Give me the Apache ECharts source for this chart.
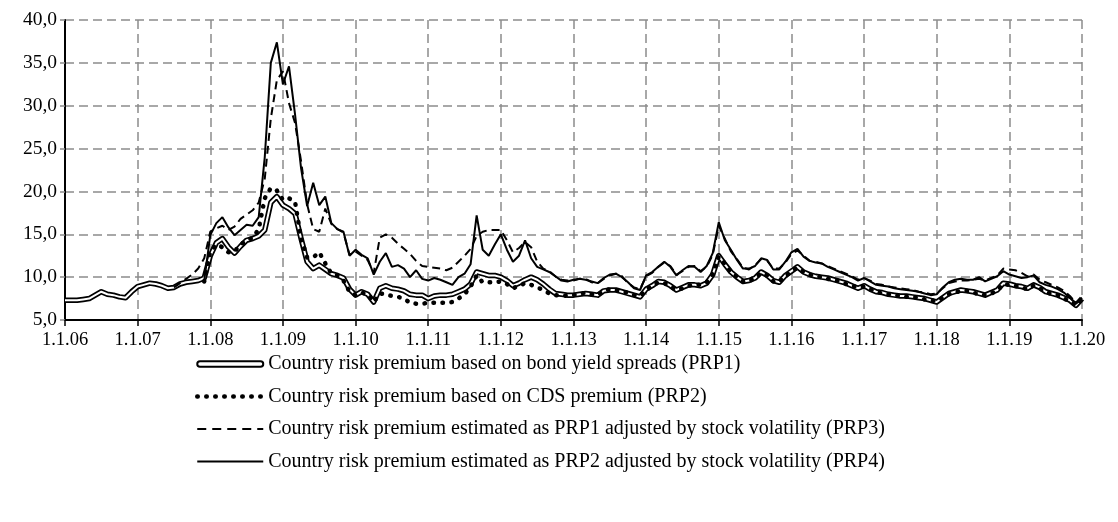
<!DOCTYPE html>
<html>
<head>
<meta charset="utf-8">
<script src="https://cdn.jsdelivr.net/npm/echarts@6/dist/echarts.min.js"></script>
<style>
html,body{margin:0;padding:0;background:#fff;}
#chart{width:1118px;height:522px;}
</style>
</head>
<body>
<div id="chart"></div>
<script>
// monthly values, 1.1.06 .. 1.1.20 (169 points), null = no data yet
var prp1 = [
	7.3, 7.3, 7.3, 7.4, 7.5, 7.9, 8.3, 8.0, 7.9, 7.7, 7.6, 8.3,
	8.9, 9.1, 9.3, 9.2, 9.0, 8.7, 8.8, 9.2, 9.4, 9.5, 9.6, 9.9,
	12.5, 14.0, 14.5, 13.5, 12.8, 13.6, 14.3, 14.5, 14.8, 15.5, 18.7, 19.4,
	18.4, 18.0, 17.4, 14.5, 11.8, 11.0, 11.4, 10.9, 10.4, 10.2, 9.9, 8.6,
	7.9, 8.3, 8.0, 7.1, 8.7, 9.0, 8.7, 8.6, 8.4, 8.0, 7.9, 7.9,
	7.5, 7.8, 7.9, 7.9, 8.0, 8.3, 8.6, 9.2, 10.6, 10.4, 10.2, 10.2,
	10.0, 9.6, 9.0, 9.3, 9.7, 10.0, 9.7, 9.2, 8.6, 8.1, 8.0, 7.9,
	7.9, 8.0, 8.1, 8.0, 7.9, 8.4, 8.5, 8.5, 8.3, 8.1, 7.9, 7.7,
	8.6, 9.0, 9.5, 9.4, 9.0, 8.5, 8.8, 9.1, 9.1, 9.0, 9.3, 10.3,
	12.5, 11.5, 10.6, 10.0, 9.5, 9.6, 9.9, 10.6, 10.2, 9.6, 9.4, 10.2,
	10.7, 11.2, 10.6, 10.3, 10.1, 10.0, 9.9, 9.7, 9.5, 9.3, 9.0, 8.7,
	9.0, 8.6, 8.3, 8.2, 8.0, 7.9, 7.8, 7.8, 7.7, 7.6, 7.5, 7.3,
	7.1, 7.6, 8.1, 8.3, 8.5, 8.4, 8.3, 8.1, 7.9, 8.2, 8.5, 9.3,
	9.2, 9.0, 8.9, 8.7, 9.1, 8.8, 8.3, 8.1, 7.9, 7.6, 7.3, 6.7,
	7.5
];
var prp2 = [
	null, null, null, null, null, null, null, null, null, null, null, null,
	null, null, null, null, null, null, null, null, null, null, null, 9.5,
	13.0, 13.8, 13.5, 12.9, 13.0, 13.8, 14.3, 14.6, 15.6, 19.2, 20.4, 20.1,
	19.0, 19.2, 18.8, 14.5, 12.3, 12.3, 12.9, 11.6, 10.4, 10.2, 9.6, 8.3,
	7.9, 8.2, 8.0, 7.1, 8.1, 8.0, 7.8, 7.7, 7.5, 7.0, 6.9, 6.9,
	7.0, 7.0, 7.0, 7.0, 7.1, 7.5, 8.0, 8.9, 10.2, 9.4, 9.4, 9.4,
	9.5, 9.2, 8.7, 9.0, 9.3, 9.1, 8.8, 8.5, 8.1, 7.9, 7.9, 7.8,
	7.9, 8.0, 8.2, 8.0, 7.9, 8.4, 8.6, 8.5, 8.3, 8.2, 7.9, 7.8,
	8.5, 9.0, 9.4, 9.3, 8.9, 8.5, 8.7, 9.0, 9.1, 9.1, 9.4, 10.4,
	12.4, 11.6, 10.6, 10.0, 9.5, 9.5, 9.9, 10.5, 10.2, 9.5, 9.4, 10.1,
	10.7, 11.1, 10.6, 10.3, 10.1, 10.0, 9.8, 9.7, 9.5, 9.2, 9.0, 8.8,
	8.9, 8.6, 8.3, 8.1, 8.0, 7.9, 7.8, 7.7, 7.7, 7.6, 7.4, 7.3,
	7.2, 7.6, 8.0, 8.2, 8.4, 8.4, 8.2, 8.0, 7.9, 8.1, 8.4, 9.2,
	9.1, 9.0, 8.8, 8.6, 9.0, 8.7, 8.3, 8.0, 7.9, 7.5, 7.2, 6.7,
	7.5
];
var prp3 = [
	null, null, null, null, null, null, null, null, null, null, null, null,
	null, null, null, null, null, null, 8.8, 9.3, 9.8, 10.3, 11.0, 12.2,
	15.3, 15.7, 16.0, 15.5, 15.9, 16.8, 17.3, 17.8, 18.7, 21.5, 28.5, 33.0,
	34.0, 30.3, 28.0, 23.5, 18.5, 15.6, 15.3, 18.0, 16.2, 15.6, 15.2, 12.6,
	13.0, 12.5, 12.0, 10.5, 14.6, 15.0, 14.6, 13.9, 13.3, 12.7, 11.9, 11.3,
	11.2, 11.1, 11.0, 10.8, 11.1, 11.8, 12.5, 13.3, 14.8, 15.3, 15.5, 15.5,
	15.5, 14.3, 12.9, 13.4, 14.1, 13.5, 11.8, 11.0, 10.7, 10.1, 9.7, 9.6,
	9.6, 9.8, 9.8, 9.4, 9.3, 9.8, 10.2, 10.4, 10.1, 9.3, 8.8, 8.6,
	10.1, 10.5, 11.2, 11.7, 11.3, 10.3, 10.7, 11.2, 11.3, 10.7, 11.2, 12.6,
	16.0, 14.5, 13.0, 12.1, 11.1, 10.9, 11.4, 12.1, 11.9, 11.0, 11.0, 11.7,
	12.7, 13.1, 12.5, 11.9, 11.8, 11.6, 11.3, 11.0, 10.7, 10.4, 10.1, 9.7,
	9.9, 9.6, 9.2, 9.1, 8.9, 8.8, 8.7, 8.6, 8.5, 8.3, 8.2, 8.0,
	8.1, 8.7, 9.3, 9.5, 9.6, 9.6, 9.7, 9.8, 9.6, 9.9, 10.2, 11.0,
	10.9, 10.8, 10.5, 10.1, 10.3, 9.7, 9.4, 9.1, 8.8, 8.4, 7.8, 7.0,
	7.6
];
var prp4 = [
	null, null, null, null, null, null, null, null, null, null, null, null,
	null, null, null, null, null, null, null, null, null, null, null, 9.6,
	14.9, 16.3, 17.0, 15.8, 14.9, 15.5, 16.1, 16.0, 17.0, 24.0, 35.0, 37.4,
	32.5, 34.6, 29.0, 22.7, 18.3, 21.0, 18.4, 19.4, 16.3, 15.6, 15.3, 12.5,
	13.2, 12.6, 12.2, 10.3, 11.8, 12.8, 11.2, 11.4, 11.0, 10.0, 10.8, 9.8,
	9.6, 9.9, 9.7, 9.4, 9.1, 10.0, 10.4, 11.5, 17.2, 13.2, 12.5, 13.8,
	15.0, 13.2, 11.8, 12.5, 14.3, 12.2, 11.2, 10.9, 10.6, 10.1, 9.6, 9.5,
	9.7, 9.8, 9.7, 9.5, 9.3, 9.9, 10.3, 10.4, 10.0, 9.4, 8.7, 8.5,
	10.2, 10.6, 11.2, 11.8, 11.2, 10.2, 10.8, 11.3, 11.2, 10.6, 11.3, 12.8,
	16.4, 14.3, 13.2, 12.0, 11.0, 11.0, 11.3, 12.2, 12.0, 10.9, 10.9, 11.8,
	12.9, 13.3, 12.4, 11.9, 11.7, 11.6, 11.2, 10.9, 10.6, 10.3, 10.0, 9.6,
	9.9, 9.5, 9.1, 9.0, 8.9, 8.7, 8.6, 8.5, 8.4, 8.3, 8.1, 7.9,
	8.0, 8.8, 9.4, 9.7, 9.8, 9.7, 9.7, 10.0, 9.5, 9.8, 10.1, 10.7,
	10.3, 10.1, 9.9, 10.0, 10.2, 9.4, 9.1, 8.9, 8.6, 8.2, 7.6, 6.9,
	7.5
];
var xLabels = ['1.1.06','1.1.07','1.1.08','1.1.09','1.1.10','1.1.11','1.1.12','1.1.13','1.1.14','1.1.15','1.1.16','1.1.17','1.1.18','1.1.19','1.1.20'];
var yLabels = ['5,0','10,0','15,0','20,0','25,0','30,0','35,0','40,0'];
var names = [
	'Country risk premium based on bond yield spreads (PRP1)',
	'Country risk premium based on CDS premium (PRP2)',
	'Country risk premium estimated as PRP1 adjusted by stock volatility (PRP3)',
	'Country risk premium estimated as PRP2 adjusted by stock volatility (PRP4)'
];

function toPairs(arr){
	var out = [];
	for(var i=0;i<arr.length;i++){
		out.push([i, arr[i]]);
	}
	return out;
}

var font = 'Liberation Serif';
var myChart = echarts.init(document.getElementById('chart'));
var option = {
	animation: false,
	backgroundColor: '#fff',
	textStyle: {fontFamily: font, color: '#000'},
	grid: {left: 65, right: 36, top: 20, bottom: 202},
	xAxis: {
		type: 'value',
		min: 0, max: 168, interval: 12,
		axisLine: {lineStyle: {color: '#000', width: 2}},
		axisTick: {show: true, length: 6, lineStyle: {color: '#000', width: 1.5}},
		axisLabel: {
			fontFamily: font, fontSize: 18.5, color: '#000', margin: 11,
			formatter: function(v){ return xLabels[Math.round(v/12)]; }
		},
		splitLine: {show: true, lineStyle: {color: '#8c8c8c', width: 1.5, type: [9, 5]}}
	},
	yAxis: {
		type: 'value',
		min: 5, max: 40, interval: 5,
		axisLine: {show: true, lineStyle: {color: '#000', width: 2}},
		axisTick: {show: true, length: 5, lineStyle: {color: '#8c8c8c', width: 1.5}},
		axisLabel: {
			fontFamily: font, fontSize: 19.5, color: '#000', margin: 8,
			formatter: function(v){ return yLabels[Math.round((v-5)/5)]; }
		},
		splitLine: {show: true, lineStyle: {color: '#8c8c8c', width: 1.5, type: [9, 5]}}
	},
	legend: {
		orient: 'vertical',
		left: 190, top: 349,
		itemWidth: 66, itemHeight: 14, itemGap: 12.5,
		textStyle: {fontFamily: font, fontSize: 20, color: '#000'},
		itemStyle: {opacity: 0},
		data: [
			{name: names[0], icon: 'path://M3,0 L69,0 A3,3 0 0 1 69,6 L3,6 A3,3 0 0 1 3,0 Z',
				itemStyle: {color: '#fff', borderColor: '#000', borderWidth: 2, opacity: 1}},
			{name: names[1], lineStyle: {width: 4.5, type: [0.5, 8.5], cap: 'round'}},
			{name: names[2], lineStyle: {width: 2, type: [9, 6]}},
			{name: names[3]}
		]
	},
	series: [
		{
			name: names[0], type: 'line', data: toPairs(prp1),
			symbol: 'none', showSymbol: false,
			lineStyle: {color: '#000', width: 5.5, join: 'round'},
			itemStyle: {color: '#000'}
		},
		{
			name: 'prp1_inner', type: 'line', data: toPairs(prp1),
			symbol: 'none', showSymbol: false, silent: true,
			lineStyle: {color: '#fff', width: 2, join: 'round'},
			itemStyle: {color: '#fff'}
		},
		{
			name: names[1], type: 'line', data: toPairs(prp2),
			symbol: 'none', showSymbol: false,
			lineStyle: {color: '#000', width: 4.5, type: [0.5, 8.5], cap: 'round'},
			itemStyle: {color: '#000'}
		},
		{
			name: names[2], type: 'line', data: toPairs(prp3),
			symbol: 'none', showSymbol: false,
			lineStyle: {color: '#000', width: 2, type: [8, 5]},
			itemStyle: {color: '#000'}
		},
		{
			name: names[3], type: 'line', data: toPairs(prp4),
			symbol: 'none', showSymbol: false,
			lineStyle: {color: '#000', width: 2},
			itemStyle: {color: '#000'}
		}
	]
};
myChart.setOption(option, true);
</script>
</body>
</html>
